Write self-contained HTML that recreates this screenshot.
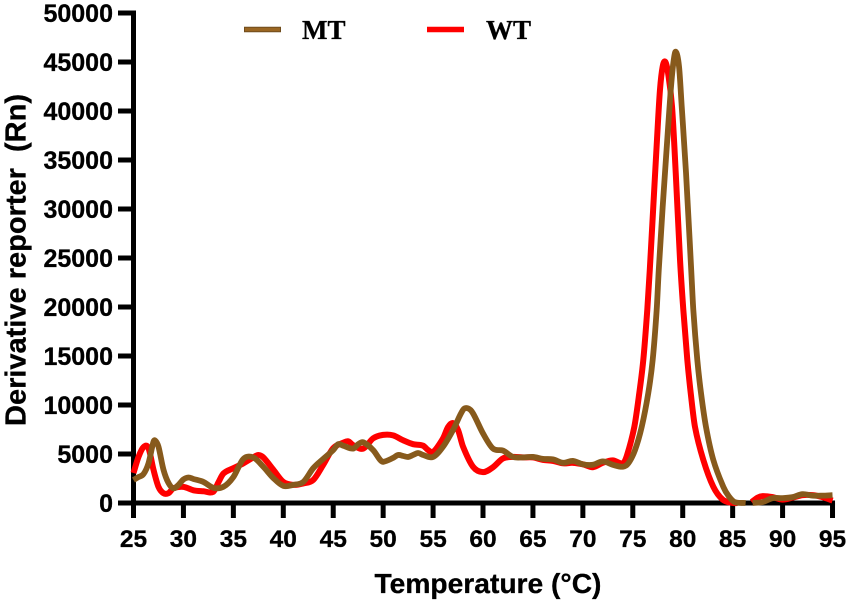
<!DOCTYPE html>
<html lang="en">
<head>
<meta charset="utf-8">
<title>Derivative reporter melt curve</title>
<style>
html,body{margin:0;padding:0;background:#fff;width:851px;height:603px;overflow:hidden}
svg{display:block}
text{font-family:"Liberation Sans",sans-serif;font-weight:bold;fill:#000;stroke:#000;stroke-width:0.3px}
</style>
</head>
<body>
<svg id="chart" xmlns="http://www.w3.org/2000/svg" width="851" height="603" viewBox="0 0 851 603">
<g id="axes"></g>
<g id="series"></g>
<g id="legend">
<line x1="244" x2="281" y1="29.5" y2="29.5" stroke="#6f4c1c" stroke-width="5.5"/>
<line x1="245" x2="280" y1="29.5" y2="29.5" stroke="#9a6622" stroke-width="3.5"/>
<text x="302" y="39" style="font-family:'Liberation Serif',serif;font-size:27px">MT</text>
<line x1="427" x2="464" y1="29.5" y2="29.5" stroke="#ff0000" stroke-width="5.5"/>
<text x="486" y="39" style="font-family:'Liberation Serif',serif;font-size:27px">WT</text>
</g>
<text x="488" y="593" text-anchor="middle" style="font-size:28.2px">Temperature (°C)</text>
<text transform="translate(25.5,260) rotate(-90)" text-anchor="middle" style="font-size:29px">Derivative reporter&#160; (Rn)</text>
</svg>
<script>
const xTicks = [25,30,35,40,45,50,55,60,65,70,75,80,85,90,95];
const yTicks = [0,5000,10000,15000,20000,25000,30000,35000,40000,45000,50000];

const wtTemps = [25,25.5,26,26.5,27,27.5,28,28.5,29,30,31,32,33,33.5,34,35,36,37,37.5,38,39,40,41,42,43,44,45,46,46.5,47,48,49,50,51,52,53,54,54.5,55,56,56.5,57,57.5,58,59,60,61,62,63,64,65,66,67,68,69,70,71,72,73,74,74.4,75.15,75.65,76.05,76.45,76.7,77.05,77.42,77.72,77.99,78.25,78.53,78.93,79.3,79.73,80.06,80.46,80.8,81.23,82.06,83.06,84,85,85.5];
const wtValues = [3060,4700,5700,5600,3400,1650,1000,1000,1500,1650,1300,1200,1150,2100,3000,3550,4050,4650,4900,4650,3400,2150,1850,2000,2350,3900,5600,6150,6300,5900,5550,6600,6950,6900,6400,6000,5850,5400,5200,6600,7750,8150,7450,5750,3700,3150,3650,4550,4700,4650,4650,4400,4300,4050,4100,3950,3650,4100,4350,4050,4800,7755,11220,14590,19700,23776,30200,37040,42140,44520,45030,43880,40440,33670,24800,19700,14590,11220,7755,4400,1660,350,0,0];
const wtTailTemps = [86.9,87.5,88,89,90,91,92,93,94,95];
const wtTailValues = [100,550,700,600,350,550,800,800,600,250];

const mtTemps = [25,25.5,26,26.5,27,27.2,27.5,28,28.5,29,29.5,30,30.5,31,32,33,34,35,36,37,38,39,40,41,42,43,44,45,45.5,46,47,47.5,48,49,49.7,50,51,51.5,52,52.5,53,53.5,54,55,56,57,58,58.5,59,60,61,62,63,64,65,66,67,68,69,70,71,72,73,74,74.55,75.22,75.89,76.55,76.99,77.39,77.6,77.99,78.45,78.8,79.06,79.3,79.63,79.9,80.33,80.85,81.06,81.46,81.83,82.33,83.06,84.06,84.6,85.2,86.3];
const mtValues = [2350,2650,2950,4050,6250,6350,5750,3400,2050,1500,1850,2400,2600,2450,2150,1550,1650,2650,4500,4650,3700,2550,1750,1850,2150,3550,4500,5400,6000,5850,5550,6000,6200,5400,4400,4200,4600,4900,4800,4700,4900,5100,4900,4700,5750,7450,9500,9650,9150,7100,5550,5350,4700,4650,4700,4500,4450,4100,4300,3950,3900,4250,3900,3700,4050,5400,7755,11220,14590,19700,23776,30200,37040,42140,44900,46050,44520,40440,33670,23776,19700,14590,11220,7755,4400,1660,700,100,0];
const mtTailTemps = [87,88,89,90,91,92,93,94,95];
const mtTailValues = [0,100,500,500,600,900,750,750,800];

const SVGNS = 'http://www.w3.org/2000/svg';
const xScale = t => 133.5 + (t - 25) * 9.986;
const yScale = v => 503 - v * 0.0098;

function linePath(ts, vs) {
  const p = ts.map((t, i) => [xScale(t), yScale(vs[i])]);
  let d = 'M' + p[0][0].toFixed(2) + ' ' + p[0][1].toFixed(2);
  for (let i = 0; i < p.length - 1; i++) {
    const a = p[Math.max(i - 1, 0)], b = p[i], c = p[i + 1], e = p[Math.min(i + 2, p.length - 1)];
    const h = c[0] - b[0];
    const m1 = (c[1] - a[1]) / ((c[0] - a[0]) || 1);
    const m2 = (e[1] - b[1]) / ((e[0] - b[0]) || 1);
    d += 'C' + (b[0] + h / 3).toFixed(2) + ' ' + (b[1] + m1 * h / 3).toFixed(2) + ' ' +
         (c[0] - h / 3).toFixed(2) + ' ' + (c[1] - m2 * h / 3).toFixed(2) + ' ' +
         c[0].toFixed(2) + ' ' + c[1].toFixed(2);
  }
  return d;
}

const axes = document.getElementById('axes');
const series = document.getElementById('series');

function addLine(x1, y1, x2, y2, w) {
  const l = document.createElementNS(SVGNS, 'line');
  l.setAttribute('x1', x1);
  l.setAttribute('y1', y1);
  l.setAttribute('x2', x2);
  l.setAttribute('y2', y2);
  l.setAttribute('stroke', '#000');
  l.setAttribute('stroke-width', w);
  axes.appendChild(l);
  return l;
}

const yAxisLine = addLine(xScale(25), yScale(50000) - 2.5, xScale(25), 518, 5);


const xAxisLine = addLine(118, yScale(0), xScale(95) + 2.5, yScale(0), 5);



xTicks.forEach(t => {
  const tick = addLine(xScale(t), yScale(0), xScale(t), 518, 5);
  
  
  const label = document.createElementNS(SVGNS, 'text');
  
  
  label.setAttribute('x', xScale(t));
  label.setAttribute('y', 547);
  label.setAttribute('text-anchor', 'middle');
  label.setAttribute('style', 'font-size:24.5px');
  label.textContent = t;
  axes.appendChild(label);
});

yTicks.forEach(v => {
  const tick = addLine(118, yScale(v), xScale(25), yScale(v), 5);
  
  
  const label = document.createElementNS(SVGNS, 'text');
  
  
  label.setAttribute('x', 113);
  label.setAttribute('y', yScale(v) + 9);
  label.setAttribute('text-anchor', 'end');
  label.setAttribute('style', 'font-size:25px');
  label.textContent = v;
  axes.appendChild(label);
});

function addSeries(ts, vs, color, w) {
  const p = document.createElementNS(SVGNS, 'path');
  p.setAttribute('d', linePath(ts, vs));
  p.setAttribute('fill', 'none');
  p.setAttribute('stroke', color);
  p.setAttribute('stroke-width', w);
  p.setAttribute('stroke-linejoin', 'round');
  series.appendChild(p);
  return p;
}

const wtMain = addSeries(wtTemps, wtValues, '#ff0000', 6);


const wtTail = addSeries(wtTailTemps, wtTailValues, '#ff0000', 6);


const mtMain = addSeries(mtTemps, mtValues, '#875a1c', 5.8);


const mtTail = addSeries(mtTailTemps, mtTailValues, '#875a1c', 5.8);


</script>
</body>
</html>
